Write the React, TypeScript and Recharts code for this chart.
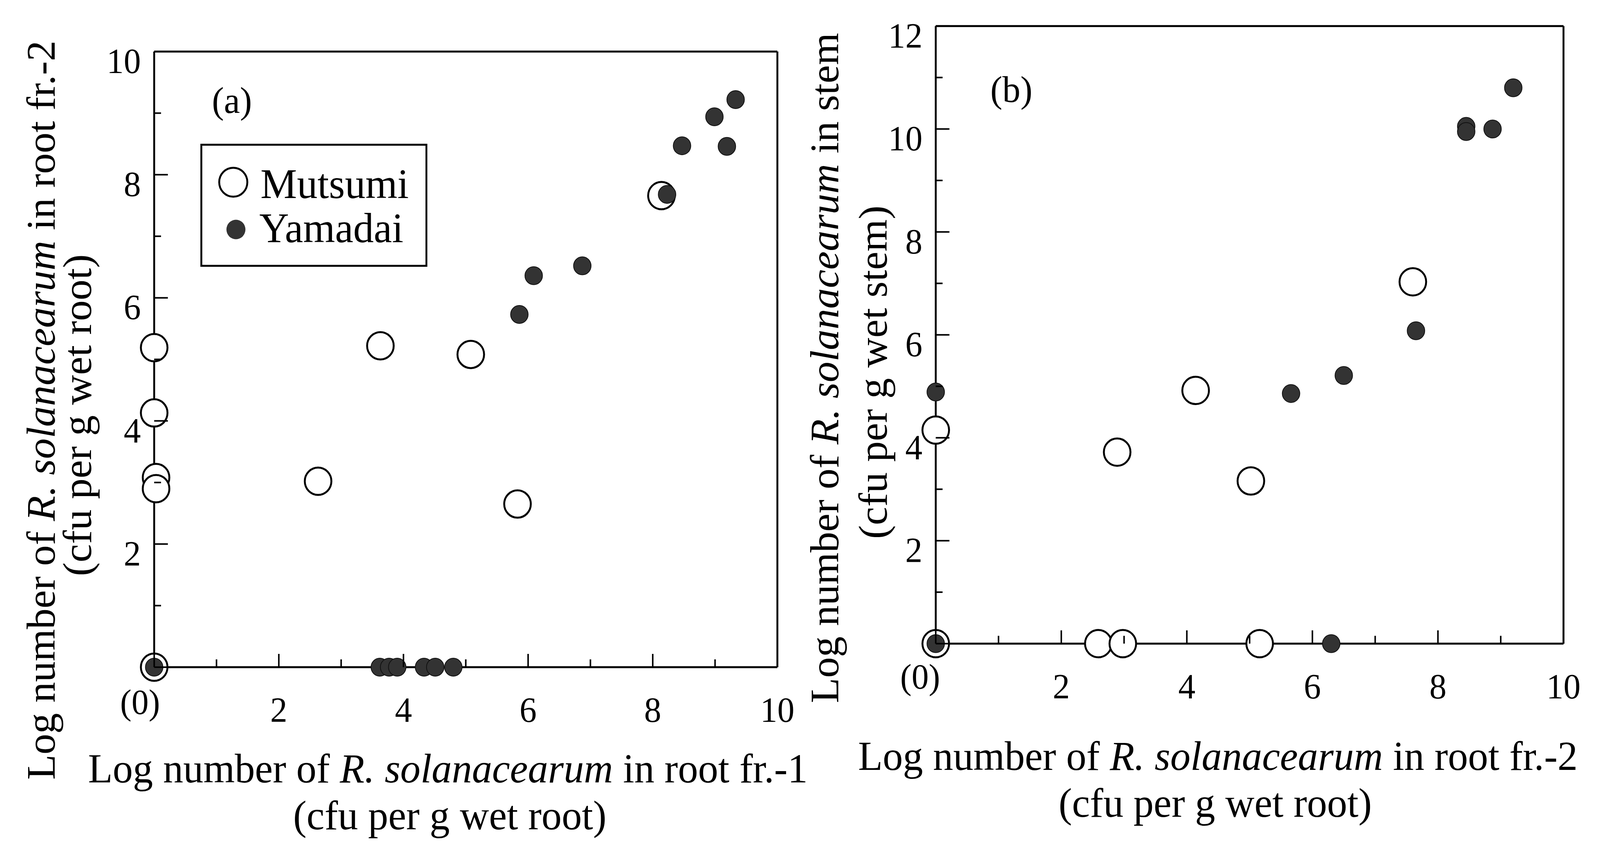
import React from 'react';
import {
  ScatterChart,
  Scatter,
  XAxis,
  YAxis,
  ReferenceLine,
  Legend,
  Customized,
} from 'recharts';

const FONT = "'Liberation Serif', 'Times New Roman', serif";
const PAGE_W = 4208;
const PAGE_H = 2153;

// series names
const SERIES = ['Mutsumi', 'Yamadai'];

// panel (a): root fr.-1 (x) vs root fr.-2 (y), log cfu
const mutsumiA = [
  [0, 5.19], [0, 4.13], [0.03, 3.08], [0.03, 2.9], [0, 0],
  [2.63, 3.02], [3.63, 5.22], [5.08, 5.08], [5.83, 2.65], [8.14, 7.66],
];
const yamadaiA = [
  [0, 0], [3.62, 0], [3.77, 0], [3.9, 0], [4.33, 0], [4.51, 0], [4.8, 0],
  [5.86, 5.73], [6.09, 6.36], [6.87, 6.52], [8.23, 7.68],
  [8.47, 8.47], [8.99, 8.94], [9.19, 8.46], [9.33, 9.22],
];

// panel (b): root fr.-2 (x) vs stem (y), log cfu
const mutsumiB = [
  [0, 0], [0, 4.15], [2.59, 0], [2.98, 0], [2.89, 3.72],
  [4.14, 4.92], [5.02, 3.16], [5.16, 0], [7.6, 7.03],
];
const yamadaiB = [
  [0, 0], [0, 4.89], [5.66, 4.86], [6.3, 0], [6.5, 5.21], [7.65, 6.08],
  [8.45, 10.05], [8.45, 9.95], [8.87, 10.0], [9.2, 10.8],
];

const xTicks = [0, 1, 2, 3, 4, 5, 6, 7, 8, 9, 10];
const xTickLabels = ['(0)', '', '2', '', '4', '', '6', '', '8', '', '10'];
const yTicksA = [0, 1, 2, 3, 4, 5, 6, 7, 8, 9, 10];
const yTicksB = [0, 1, 2, 3, 4, 5, 6, 7, 8, 9, 10, 11, 12];
const yTickLabels = ['', '', '2', '', '4', '', '6', '', '8', '', '10', '', '12'];

const toPoints = (arr: number[][]) => arr.map(([x, y]) => ({ x, y }));

const openShape = (p: any) => (
  <circle cx={p.cx} cy={p.cy} r={35} fill="#fff" stroke="#000" strokeWidth={5} />
);
const filledShape = (p: any) => (
  <circle cx={p.cx} cy={p.cy} r={23} fill="#333" stroke="#111" strokeWidth={2} />
);

const makeXTick = (zeroDx: number, zeroDy: number) => (props: any) => {
  const { x, y, payload } = props;
  const v = payload.value;
  const label = xTickLabels[xTicks.indexOf(v)];
  const major = v % 2 === 0;
  return (
    <g>
      <line x1={x} y1={y} x2={x} y2={y - (major ? 34 : 20)} stroke="#000" strokeWidth={4} />
      {label ? (
        <text
          x={v === 0 ? x + zeroDx : x}
          y={v === 0 ? y + zeroDy : y + 140}
          textAnchor="middle"
          fontSize={90}
          fontFamily={FONT}
          fill="#000"
        >
          {label}
        </text>
      ) : null}
    </g>
  );
};

const renderYTick = (props: any) => {
  const { x, y, payload } = props;
  const v = payload.value;
  const label = yTickLabels[v];
  const major = v % 2 === 0;
  return (
    <g>
      <line x1={x} y1={y} x2={x + (major ? 36 : 18)} y2={y} stroke="#000" strokeWidth={4} />
      {label ? (
        <text x={x - 35} y={y + 55} textAnchor="end" fontSize={90} fontFamily={FONT} fill="#000">
          {label}
        </text>
      ) : null}
    </g>
  );
};

const renderLegend = (props: any) => {
  const payload = props.payload || [];
  return (
    <svg width={597} height={315}>
      <rect x={2.5} y={2.5} width={592} height={310} fill="#fff" stroke="#000" strokeWidth={5} />
      {payload.map((entry: any, i: number) => (
        <g key={entry.value}>
          {i === 0 ? (
            <circle cx={86.5} cy={98.5} r={37} fill="#fff" stroke="#000" strokeWidth={5} />
          ) : (
            <circle cx={93.5} cy={219.5} r={25} fill="#333" />
          )}
          <text x={i === 0 ? 158 : 155} y={i === 0 ? 139.5 : 252.5} fontSize={108} fontFamily={FONT} fill="#000">
            {entry.value}
          </text>
        </g>
      ))}
    </svg>
  );
};

// two-line axis title as one text element
const AxisTitle = ({ transform, x1, y1, x2, y2, tail, unit }: any) => (
  <text transform={transform} textAnchor="middle" fontSize={106} fontFamily={FONT} fill="#000">
    <tspan x={x1} y={y1}>
      {'Log number of '}
      <tspan fontStyle="italic">R. solanacearum</tspan>
      {tail}
    </tspan>
    <tspan x={x2} y={y2}>{unit}</tspan>
  </text>
);

const TitlesA = () => (
  <g>
    <text x={610} y={289} textAnchor="middle" fontSize={95} fontFamily={FONT} fill="#000">(a)</text>
    <AxisTitle x1={1178} y1={2003} x2={1183} y2={2123} tail=" in root fr.-1" unit="(cfu per g wet root)" />
    <AxisTitle
      transform="translate(144,1050) rotate(-90)"
      x1={0}
      y1={0}
      x2={-13}
      y2={95}
      tail=" in root fr.-2"
      unit="(cfu per g wet root)"
    />
  </g>
);

const TitlesB = () => (
  <g>
    <text x={510} y={261} textAnchor="middle" fontSize={95} fontFamily={FONT} fill="#000">(b)</text>
    <AxisTitle x1={1053} y1={1971} x2={1046} y2={2091} tail=" in root fr.-2" unit="(cfu per g wet root)" />
    <AxisTitle
      transform="translate(55,942) rotate(-90)"
      x1={0}
      y1={0}
      x2={-11}
      y2={127}
      tail=" in stem"
      unit="(cfu per g wet stem)"
    />
  </g>
);

const axisLine = { stroke: '#000', strokeWidth: 5 };

export default function App() {
  // fit the 4208x2153 drawing to whatever css viewport the page really has
  const vw = typeof window !== 'undefined' ? window.innerWidth : PAGE_W;
  const vh = typeof window !== 'undefined' ? window.innerHeight : PAGE_H;
  let sx = vw / PAGE_W;
  let sy = vh / PAGE_H;
  if (!(sx > 0.8 && sx < 1.25)) sx = 1;
  if (!(sy > 0.8 && sy < 1.25)) sy = 1;

  return (
    <div
      style={{
        position: 'absolute',
        left: 0,
        top: 0,
        width: PAGE_W,
        height: PAGE_H,
        background: '#fff',
        transformOrigin: '0 0',
        transform: `scale(${sx}, ${sy})`,
      }}
    >
      <style>{'html,body{margin:0;overflow:hidden;} .recharts-surface{overflow:visible;}'}</style>
      <div style={{ position: 'absolute', left: 0, top: 0 }}>
        <ScatterChart width={2150} height={2153} margin={{ top: 132, right: 105.5, bottom: 345, left: 305.5 }}>
          <XAxis
            type="number"
            dataKey="x"
            domain={[0, 10]}
            ticks={xTicks}
            interval={0}
            height={100}
            tickSize={0}
            tickMargin={0}
            tickLine={false}
            axisLine={axisLine}
            tick={makeXTick(-37, 120)}
          />
          <YAxis
            type="number"
            dataKey="y"
            domain={[0, 10]}
            ticks={yTicksA}
            interval={0}
            width={100}
            tickSize={0}
            tickMargin={0}
            tickLine={false}
            axisLine={axisLine}
            tick={renderYTick}
          />
          <ReferenceLine y={10} stroke="#000" strokeWidth={5} />
          <ReferenceLine x={10} stroke="#000" strokeWidth={5} />
          <Scatter name={SERIES[0]} data={toPoints(mutsumiA)} shape={openShape} isAnimationActive={false} />
          <Scatter name={SERIES[1]} data={toPoints(yamadaiA)} shape={filledShape} isAnimationActive={false} />
          <Legend
            layout="vertical"
            align="center"
            verticalAlign="middle"
            content={renderLegend}
            wrapperStyle={{ left: 526.5, top: 367.5, width: 597, height: 315 }}
          />
          <Customized component={TitlesA} />
        </ScatterChart>
      </div>
      <div style={{ position: 'absolute', left: 2150, top: 0 }}>
        <ScatterChart width={2058} height={2153} margin={{ top: 66.7, right: 96, bottom: 405.3, left: 211 }}>
          <XAxis
            type="number"
            dataKey="x"
            domain={[0, 10]}
            ticks={xTicks}
            interval={0}
            height={100}
            tickSize={0}
            tickMargin={0}
            tickLine={false}
            axisLine={axisLine}
            tick={makeXTick(-41, 115)}
          />
          <YAxis
            type="number"
            dataKey="y"
            domain={[0, 12]}
            ticks={yTicksB}
            interval={0}
            width={100}
            tickSize={0}
            tickMargin={0}
            tickLine={false}
            axisLine={axisLine}
            tick={renderYTick}
          />
          <ReferenceLine y={12} stroke="#000" strokeWidth={5} />
          <ReferenceLine x={10} stroke="#000" strokeWidth={5} />
          <Scatter name={SERIES[0]} data={toPoints(mutsumiB)} shape={openShape} isAnimationActive={false} />
          <Scatter name={SERIES[1]} data={toPoints(yamadaiB)} shape={filledShape} isAnimationActive={false} />
          <Customized component={TitlesB} />
        </ScatterChart>
      </div>
    </div>
  );
}
